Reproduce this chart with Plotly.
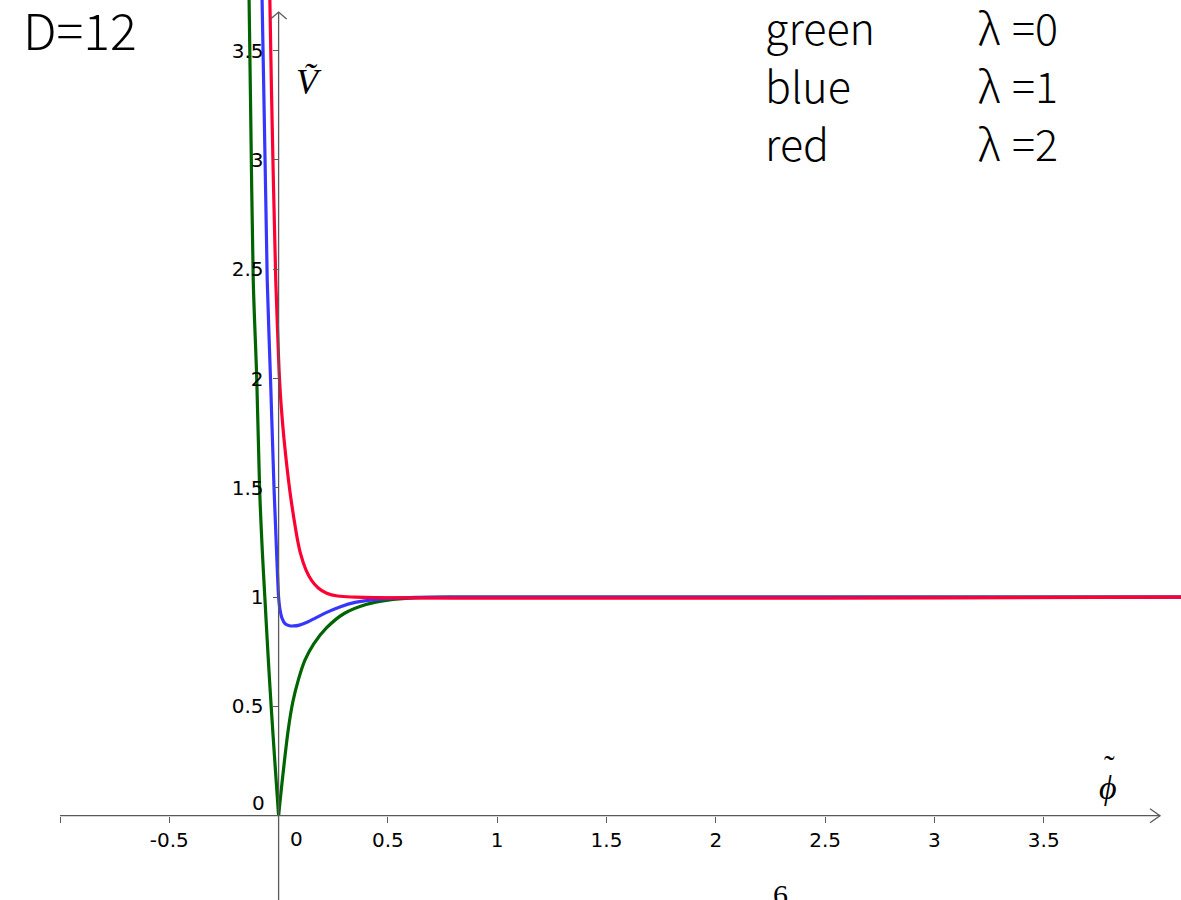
import plotly.graph_objects as go

# ---------------- data ----------------
green_left_phi = [-0.142, -0.135, -0.126, -0.116, -0.100, -0.087, -0.075, -0.063, -0.048, -0.034, -0.016, 0.0]
green_left_v = [4.05, 3.73, 3.09, 2.45, 2.00, 1.50, 1.22, 1.00, 0.73, 0.50, 0.23, 0.0]

green_right_phi = [0.0, 0.02, 0.045, 0.065, 0.09, 0.12, 0.16, 0.22, 0.30, 0.40, 0.50, 0.62, 0.80, 1.20, 4.30]
green_right_v = [0.0, 0.19, 0.40, 0.52, 0.62, 0.71, 0.785, 0.86, 0.925, 0.966, 0.986, 0.996, 1.0, 1.0, 1.0]

blue_phi = [-0.080, -0.0755, -0.062, -0.052, -0.037, -0.021, -0.009, -0.004, 0.0, 0.006, 0.015, 0.03, 0.05,
            0.07, 0.095, 0.13, 0.17, 0.22, 0.28, 0.35, 0.45, 0.60, 0.80, 4.30]
blue_v = [3.95, 3.73, 3.00, 2.45, 2.00, 1.50, 1.20, 1.08, 1.00, 0.945, 0.905, 0.878, 0.869,
          0.868, 0.872, 0.885, 0.905, 0.93, 0.955, 0.976, 0.99, 0.998, 1.0, 1.0]

red_phi = [-0.042, -0.040, -0.026, -0.013, -0.004, 0.004, 0.013, 0.025, 0.040, 0.055, 0.070, 0.085,
           0.10, 0.125, 0.15, 0.18, 0.22, 0.27, 0.35, 4.30]
red_v = [3.95, 3.73, 3.00, 2.45, 2.20, 2.00, 1.86, 1.72, 1.58, 1.46, 1.36, 1.27,
         1.20, 1.125, 1.078, 1.043, 1.018, 1.005, 1.0, 1.0]

x_tick_vals = [-1, -0.5, 0.5, 1, 1.5, 2, 2.5, 3, 3.5]
x_tick_text = ["", "-0.5", "0.5", "1", "1.5", "2", "2.5", "3", "3.5"]
y_tick_vals = [0.5, 1, 1.5, 2, 2.5, 3, 3.5]
y_tick_text = ["0.5", "1", "1.5", "2", "2.5", "3", "3.5"]

legend_names = ["green", "blue", "red"]
legend_lambdas = ["=0", "=1", "=2"]

# ---------------- layout constants ----------------
W, H = 1181, 900
PX = 218.6            # pixels per unit (both axes)
X0, Y0 = 278.6, 815.7  # pixel position of the origin
x_range = [-X0 / PX, (W - X0) / PX]
y_range = [-(H - Y0) / PX, Y0 / PX]

GREEN = "#006400"
BLUE = "#3636ff"
RED = "#ff0033"
AXIS = "#5a5a5a"
LW = 3.2

fig = go.Figure()
for xs, ys, col in [(green_left_phi, green_left_v, GREEN),
                    (green_right_phi, green_right_v, GREEN),
                    (blue_phi, blue_v, BLUE),
                    (red_phi, red_v, RED)]:
    fig.add_trace(go.Scatter(x=xs, y=ys, mode="lines",
                             line=dict(color=col, width=LW, shape="spline", smoothing=1.0),
                             hoverinfo="skip", showlegend=False))

u = 1.0 / PX
x_end = (1160 - X0) / PX
y_end = (Y0 - 12) / PX
shapes = [
    dict(type="line", xref="x", yref="y", x0=-1, y0=0, x1=x_end, y1=0,
         line=dict(color=AXIS, width=1.3)),
    dict(type="line", xref="x", yref="y", x0=0, y0=y_range[0] - 0.1, x1=0, y1=y_end,
         line=dict(color=AXIS, width=1.3)),
    dict(type="path", xref="x", yref="y",
         path=f"M {x_end - 10*u},{7*u} L {x_end},0 L {x_end - 10*u},{-7*u}",
         line=dict(color=AXIS, width=1.3)),
    dict(type="path", xref="x", yref="y",
         path=f"M {-8*u},{y_end - 7*u} L 0,{y_end} L {8*u},{y_end - 7*u}",
         line=dict(color=AXIS, width=1.3)),
]

tick_font = dict(family="DejaVu Sans", size=20, color="#000000")
big_font = dict(family="Noto Sans CJK JP", size=50, color="#000000", weight=300)
leg_font = dict(family="Noto Sans CJK JP", size=43, color="#000000", weight=300)
serif = "Liberation Serif"

annotations = [
    dict(x=0, y=0, xref="x", yref="y", text="0", showarrow=False, font=tick_font,
         xshift=18, yshift=-23, xanchor="center", yanchor="middle"),
    dict(x=0, y=0, xref="x", yref="y", text="0", showarrow=False, font=tick_font,
         xshift=-20, yshift=13, xanchor="center", yanchor="middle"),
    dict(x=21 / W, y=1 - 28 / H, xref="paper", yref="paper", text="D=12", showarrow=False,
         font=big_font, xanchor="left", yanchor="middle"),
    dict(x=309 / W, y=1 - 82 / H, xref="paper", yref="paper", text="<i>Ṽ</i>", showarrow=False,
         font=dict(family=serif, size=36, color="#000000"),
         xanchor="center", yanchor="middle"),
    dict(x=1108 / W, y=1 - 787 / H, xref="paper", yref="paper", text="<i>ϕ</i>", showarrow=False,
         font=dict(family=serif, size=34, color="#000000"),
         xanchor="center", yanchor="middle"),
    dict(x=1109 / W, y=1 - 766 / H, xref="paper", yref="paper", text="˜", showarrow=False,
         font=dict(family=serif, size=32, color="#000000"),
         xanchor="center", yanchor="middle"),
    dict(x=780 / W, y=1 - 876 / H, xref="paper", yref="paper", text="6", showarrow=False,
         font=dict(family=serif, size=30, color="#000000"),
         xanchor="center", yanchor="top"),
]

row_centers = [26, 84, 142]
for name, lam, yc in zip(legend_names, legend_lambdas, row_centers):
    annotations.append(dict(x=763 / W, y=1 - yc / H, xref="paper", yref="paper", text=name,
                            showarrow=False, font=leg_font, xanchor="left", yanchor="middle"))
    annotations.append(dict(x=976 / W, y=1 - yc / H, xref="paper", yref="paper", text="λ",
                            showarrow=False, font=leg_font, xanchor="left", yanchor="middle"))
    annotations.append(dict(x=1010 / W, y=1 - yc / H, xref="paper", yref="paper", text=lam,
                            showarrow=False, font=leg_font, xanchor="left", yanchor="middle"))

fig.update_layout(
    width=W, height=H,
    margin=dict(l=0, r=0, t=0, b=0),
    paper_bgcolor="white", plot_bgcolor="white",
    showlegend=False,
    shapes=shapes,
    annotations=annotations,
    xaxis=dict(range=x_range, showgrid=False, zeroline=False, showline=False,
               anchor="free", position=(H - Y0) / H,
               tickmode="array", tickvals=x_tick_vals, ticktext=x_tick_text,
               ticks="outside", ticklen=6, tickwidth=1.2, tickcolor=AXIS,
               tickfont=tick_font, fixedrange=True),
    yaxis=dict(range=y_range, showgrid=False, zeroline=False, showline=False,
               anchor="free", position=X0 / W,
               tickmode="array", tickvals=y_tick_vals, ticktext=y_tick_text,
               ticks="outside", ticklen=6, tickwidth=1.2, tickcolor=AXIS,
               ticklabelstandoff=5,
               tickfont=tick_font, fixedrange=True),
)

fig.write_html("out.html", config={"displayModeBar": False},
               post_script="document.body.style.margin='0';document.body.style.overflow='hidden';")
